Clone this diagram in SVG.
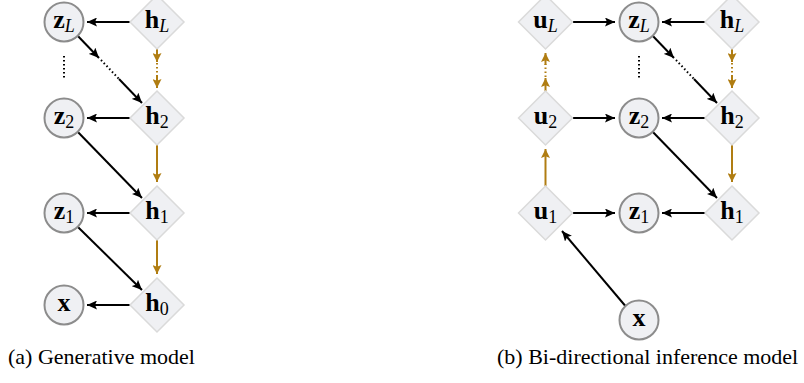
<svg xmlns="http://www.w3.org/2000/svg" width="804" height="383" viewBox="0 0 804 383">
<defs>
<marker id="ab" viewBox="0 0 10 9" refX="10" refY="4.5" markerWidth="10" markerHeight="9" markerUnits="userSpaceOnUse" orient="auto"><path d="M0,0 L10,4.5 L0,9 L2,4.5 z" fill="#000"/></marker>
<marker id="ag" viewBox="0 0 9 9" refX="9" refY="4.5" markerWidth="9" markerHeight="9" markerUnits="userSpaceOnUse" orient="auto"><path d="M0,0 L9,4.5 L0,9 L1.8,4.5 z" fill="#b07d12"/></marker>
</defs>
<style>
.c{fill:#eff0f3;stroke:#8c8c8c;stroke-width:2}
.d{fill:#eff0f3;stroke:#dadada;stroke-width:1.5}
.t{font-family:"Liberation Serif",serif;font-size:26px;font-weight:bold;text-anchor:middle}
.s{font-size:18px;font-weight:normal}
.i{font-style:italic}
.k{stroke:#000;stroke-width:2;fill:none}
.g{stroke:#b07d12;stroke-width:2;fill:none}
.dot{stroke-dasharray:1.5 2.5}
.cap{font-family:"Liberation Serif",serif;font-size:22px}
</style>
<g id="connectors">
<!-- left -->
<line class="k" x1="130" y1="22" x2="87" y2="22" marker-end="url(#ab)"/>
<line class="k" x1="130" y1="118" x2="87" y2="118" marker-end="url(#ab)"/>
<line class="k" x1="130" y1="213" x2="87" y2="213" marker-end="url(#ab)"/>
<line class="k" x1="130" y1="305" x2="87" y2="305" marker-end="url(#ab)"/>
<line class="k" x1="77.4" y1="35.5" x2="99" y2="58" marker-end="url(#ab)"/>
<line class="k dot" x1="101" y1="60" x2="119" y2="79"/>
<line class="k" x1="119" y1="79" x2="142" y2="103" marker-end="url(#ab)"/>
<line class="k dot" x1="64" y1="56" x2="64" y2="80"/>
<line class="k" x1="77.4" y1="131.5" x2="142" y2="198" marker-end="url(#ab)"/>
<line class="k" x1="77.4" y1="226.5" x2="142" y2="290" marker-end="url(#ab)"/>
<line class="g" x1="157" y1="49" x2="157" y2="62" marker-end="url(#ag)"/>
<line class="g dot" x1="157" y1="63" x2="157" y2="76"/>
<line class="g" x1="157" y1="76" x2="157" y2="88" marker-end="url(#ag)"/>
<line class="g" x1="157" y1="145" x2="157" y2="182" marker-end="url(#ag)"/>
<line class="g" x1="157" y1="240" x2="157" y2="274" marker-end="url(#ag)"/>
<!-- right -->
<line class="k" x1="573" y1="22" x2="615" y2="22" marker-end="url(#ab)"/>
<line class="k" x1="705" y1="22" x2="662" y2="22" marker-end="url(#ab)"/>
<line class="k" x1="573" y1="118" x2="615" y2="118" marker-end="url(#ab)"/>
<line class="k" x1="705" y1="118" x2="662" y2="118" marker-end="url(#ab)"/>
<line class="k" x1="573" y1="213" x2="615" y2="213" marker-end="url(#ab)"/>
<line class="k" x1="705" y1="213" x2="662" y2="213" marker-end="url(#ab)"/>
<line class="k" x1="652.4" y1="35.5" x2="674" y2="58" marker-end="url(#ab)"/>
<line class="k dot" x1="676" y1="60" x2="694" y2="79"/>
<line class="k" x1="694" y1="79" x2="717" y2="103" marker-end="url(#ab)"/>
<line class="k dot" x1="639" y1="56" x2="639" y2="80"/>
<line class="k" x1="652.4" y1="131.5" x2="717" y2="198" marker-end="url(#ab)"/>
<line class="k" x1="625.4" y1="306" x2="562" y2="231" marker-end="url(#ab)"/>
<line class="g" x1="732" y1="49" x2="732" y2="62" marker-end="url(#ag)"/>
<line class="g dot" x1="732" y1="63" x2="732" y2="76"/>
<line class="g" x1="732" y1="76" x2="732" y2="88" marker-end="url(#ag)"/>
<line class="g" x1="732" y1="145" x2="732" y2="182" marker-end="url(#ag)"/>
<line class="g" x1="545.5" y1="91" x2="545.5" y2="78" marker-end="url(#ag)"/>
<line class="g dot" x1="545.5" y1="77" x2="545.5" y2="64"/>
<line class="g" x1="545.5" y1="65" x2="545.5" y2="53" marker-end="url(#ag)"/>
<line class="g" x1="545.5" y1="186" x2="545.5" y2="149" marker-end="url(#ag)"/>
</g>
<!-- left nodes -->
<g id="zL"><circle class="c" cx="64" cy="22" r="19.5"/><text class="t" x="64" y="28">z<tspan class="s i" dy="4">L</tspan></text></g>
<g id="hL"><polygon class="d" points="157,-5 184,22 157,49 130,22"/><text class="t" x="157" y="28">h<tspan class="s i" dy="4">L</tspan></text></g>
<g id="z2"><circle class="c" cx="64" cy="118" r="19.5"/><text class="t" x="64" y="124">z<tspan class="s" dy="4">2</tspan></text></g>
<g id="h2"><polygon class="d" points="157,91 184,118 157,145 130,118"/><text class="t" x="157" y="124">h<tspan class="s" dy="4">2</tspan></text></g>
<g id="z1"><circle class="c" cx="64" cy="213" r="19.5"/><text class="t" x="64" y="219">z<tspan class="s" dy="4">1</tspan></text></g>
<g id="h1"><polygon class="d" points="157,186 184,213 157,240 130,213"/><text class="t" x="157" y="219">h<tspan class="s" dy="4">1</tspan></text></g>
<g id="x"><circle class="c" cx="64" cy="305" r="19.5"/><text class="t" x="64" y="311">x</text></g>
<g id="h0"><polygon class="d" points="157,278 184,305 157,332 130,305"/><text class="t" x="157" y="311">h<tspan class="s" dy="4">0</tspan></text></g>
<!-- right nodes -->
<g id="r_uL"><polygon class="d" points="545.5,-5 572.5,22 545.5,49 518.5,22"/><text class="t" x="545.5" y="28">u<tspan class="s i" dy="4">L</tspan></text></g>
<g id="r_zL"><circle class="c" cx="639" cy="22" r="19.5"/><text class="t" x="639" y="28">z<tspan class="s i" dy="4">L</tspan></text></g>
<g id="r_hL"><polygon class="d" points="732,-5 759,22 732,49 705,22"/><text class="t" x="732" y="28">h<tspan class="s i" dy="4">L</tspan></text></g>
<g id="r_u2"><polygon class="d" points="545.5,91 572.5,118 545.5,145 518.5,118"/><text class="t" x="545.5" y="124">u<tspan class="s" dy="4">2</tspan></text></g>
<g id="r_z2"><circle class="c" cx="639" cy="118" r="19.5"/><text class="t" x="639" y="124">z<tspan class="s" dy="4">2</tspan></text></g>
<g id="r_h2"><polygon class="d" points="732,91 759,118 732,145 705,118"/><text class="t" x="732" y="124">h<tspan class="s" dy="4">2</tspan></text></g>
<g id="r_u1"><polygon class="d" points="545.5,186 572.5,213 545.5,240 518.5,213"/><text class="t" x="545.5" y="219">u<tspan class="s" dy="4">1</tspan></text></g>
<g id="r_z1"><circle class="c" cx="639" cy="213" r="19.5"/><text class="t" x="639" y="219">z<tspan class="s" dy="4">1</tspan></text></g>
<g id="r_h1"><polygon class="d" points="732,186 759,213 732,240 705,213"/><text class="t" x="732" y="219">h<tspan class="s" dy="4">1</tspan></text></g>
<g id="r_x"><circle class="c" cx="639" cy="320" r="19.5"/><text class="t" x="639" y="326">x</text></g>
<text class="cap" x="8" y="364">(a) Generative model</text>
<text class="cap" x="497" y="364">(b) Bi-directional inference model</text>
</svg>
